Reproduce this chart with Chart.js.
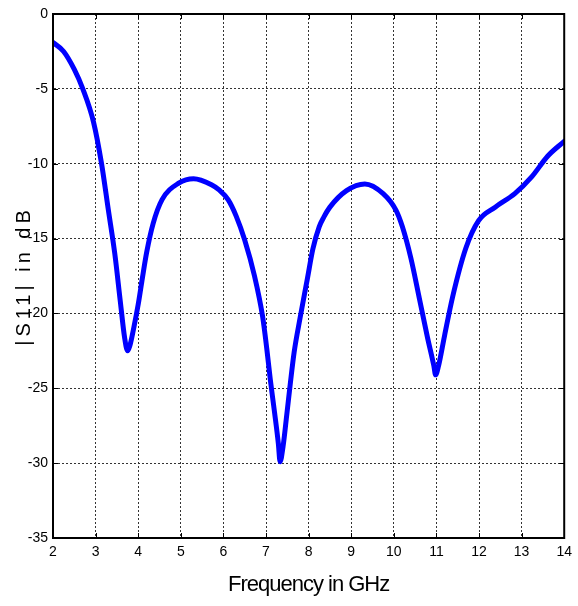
<!DOCTYPE html>
<html>
<head>
<meta charset="utf-8">
<script src="https://cdn.jsdelivr.net/npm/chart.js@4/dist/chart.umd.min.js"></script>
<style>
html,body{margin:0;padding:0;background:#fff;}
#wrap{width:578px;height:606px;position:relative;}
</style>
</head>
<body>
<div id="wrap"><canvas id="c" width="578" height="606"></canvas></div>
<script>
// Frequency (GHz) and |S11| (dB)
const freqs = [2.0, 2.25, 2.5, 2.7, 2.95, 3.14, 3.3, 3.45, 3.58, 3.68, 3.75, 3.8, 3.9, 4.0, 4.1, 4.2, 4.35, 4.56, 4.95, 5.3, 5.72, 5.9, 6.11, 6.3, 6.5, 6.73, 6.92, 7.02, 7.1, 7.2, 7.29, 7.33, 7.4, 7.49, 7.57, 7.66, 7.8, 7.97, 8.1, 8.25, 8.36, 8.5, 8.89, 9.32, 9.75, 10.05, 10.2, 10.4, 10.6, 10.79, 10.94, 10.98, 11.05, 11.19, 11.38, 11.69, 11.99, 12.38, 12.84, 13.23, 13.61, 14.0];
const s11 = [-1.9, -2.5, -3.7, -5.0, -7.2, -10.0, -13.1, -16.0, -19.2, -21.6, -22.5, -22.2, -20.9, -19.4, -17.6, -15.9, -14.0, -12.4, -11.3, -11.0, -11.4, -11.75, -12.4, -13.5, -15.1, -17.5, -20.2, -22.4, -24.4, -26.6, -28.7, -29.9, -28.9, -26.7, -24.7, -22.6, -20.3, -17.7, -15.7, -14.2, -13.55, -12.9, -11.8, -11.35, -12.0, -13.1, -14.2, -16.3, -19.0, -21.6, -23.5, -24.1, -23.5, -21.5, -18.9, -15.65, -13.8, -12.9, -12.0, -10.9, -9.5, -8.5];
const xTicks = [2, 3, 4, 5, 6, 7, 8, 9, 10, 11, 12, 13, 14];
const yTicks = [0, -5, -10, -15, -20, -25, -30, -35];
const xTitle = 'Frequency in GHz';
const yTitle = '|S11| in dB';

const points = freqs.map((f, i) => ({x: f, y: s11[i]}));
const sans = "'Liberation Sans', Arial, sans-serif";

function spaceTitle(chart, scale, spacing) {
  if (!scale || scale._spacedTitle) return;
  const orig = scale.drawTitle.bind(scale);
  scale.drawTitle = function () {
    const ctx = chart.ctx;
    ctx.save();
    ctx.letterSpacing = spacing;
    orig();
    ctx.restore();
  };
  scale._spacedTitle = true;
}

const framePlugin = {
  id: 'frame',
  beforeDraw(chart) {
    spaceTitle(chart, chart.scales.y, '4px');
    spaceTitle(chart, chart.scales.x, '-1px');
  },
  afterDraw(chart) {
    const {ctx, chartArea: a, scales} = chart;
    ctx.save();
    ctx.strokeStyle = '#000';
    ctx.lineWidth = 1;
    ctx.setLineDash([]);
    const L = 5;
    ctx.beginPath();
    xTicks.forEach(v => {
      const px = Math.round(scales.x.getPixelForValue(v)) + 0.5;
      ctx.moveTo(px, a.bottom); ctx.lineTo(px, a.bottom - L);
      ctx.moveTo(px, a.top); ctx.lineTo(px, a.top + L);
    });
    yTicks.forEach(v => {
      const py = Math.round(scales.y.getPixelForValue(v)) + 0.5;
      ctx.moveTo(a.left, py); ctx.lineTo(a.left + L, py);
      ctx.moveTo(a.right, py); ctx.lineTo(a.right - L, py);
    });
    ctx.stroke();
    ctx.lineWidth = 2;
    ctx.strokeRect(a.left, a.top, a.right - a.left, a.bottom - a.top);
    ctx.restore();
  }
};

const chart = new Chart(document.getElementById('c'), {
  type: 'line',
  data: {
    datasets: [{
      data: points,
      borderColor: '#0000ff',
      borderWidth: 5,
      pointRadius: 0,
      fill: false,
      cubicInterpolationMode: 'monotone',
      borderCapStyle: 'round',
      borderJoinStyle: 'round'
    }]
  },
  options: {
    responsive: false,
    animation: false,
    devicePixelRatio: 1,
    layout: {padding: {top: 14, right: 8, left: 0, bottom: 0}},
    plugins: {legend: {display: false}, tooltip: {enabled: false}},
    scales: {
      x: {
        type: 'linear',
        min: 2, max: 14,
        afterBuildTicks: s => { s.ticks = xTicks.map(v => ({value: v})); },
        afterFit: s => { s.height = 68; },
        grid: {color: '#333', lineWidth: 1, drawTicks: false},
        border: {display: true, color: '#000', width: 2, dash: [2, 2]},
        ticks: {color: '#000', font: {family: sans, size: 14}, padding: 6, maxRotation: 0, autoSkip: false},
        title: {display: true, text: xTitle, color: '#000', font: {family: sans, size: 22}, padding: {top: 0, bottom: 8}}
      },
      y: {
        type: 'linear',
        min: -35, max: 0,
        afterBuildTicks: s => { s.ticks = yTicks.map(v => ({value: v})); },
        afterFit: s => { s.width = 53; },
        grid: {color: '#333', lineWidth: 1, drawTicks: false},
        border: {display: true, color: '#000', width: 2, dash: [2, 2]},
        ticks: {color: '#000', font: {family: sans, size: 14}, padding: 5, autoSkip: false},
        title: {display: true, text: yTitle, color: '#000', font: {family: sans, size: 20}, padding: {top: 12, bottom: 0}}
      }
    }
  },
  plugins: [framePlugin]
});
chart.draw();
</script>
</body>
</html>
